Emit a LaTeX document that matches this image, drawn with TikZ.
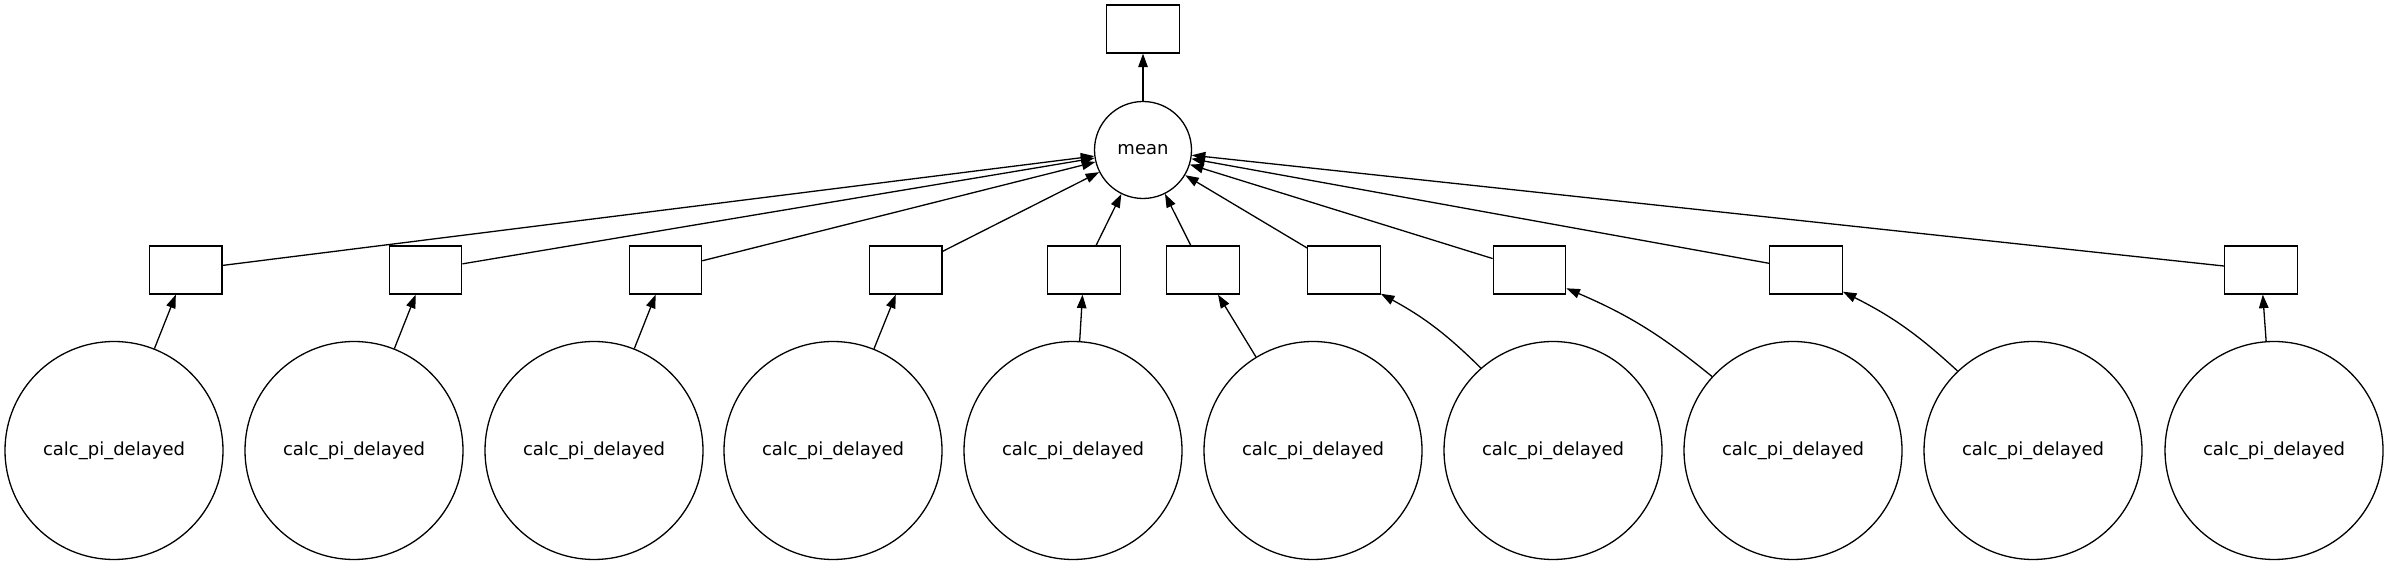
\documentclass[tikz,border=0pt]{standalone}
\usepackage{fontspec}
\setmainfont{DejaVu Sans}
\usetikzlibrary{arrows.meta}
\begin{document}
\begin{tikzpicture}[x=1bp,y=1bp,
  boxnode/.style={draw, line width=1.3bp, minimum width=72.5bp, minimum height=48bp, inner sep=0pt},
  circnode/.style={draw, circle, line width=1.3bp, inner sep=0pt, font=\fontsize{18bp}{22bp}\selectfont},
  calcnode/.style={circnode, minimum size=218bp},
  edge/.style={line width=1.3bp, -{Triangle[length=13.5bp,width=9.5bp]}}]
\fill[white] (0,0) rectangle (2387,564);
\useasboundingbox (0,0) rectangle (2387,564);
\node[boxnode] (top) at (1143,535) {};
\node[circnode, minimum size=97bp] (mean) at (1143,414) {mean};
\foreach \x [count=\i] in {185.6,425.5,665.4,905.7,1084,1203,1344,1529.5,1806,2261}
  \node[boxnode] (b\i) at (\x,294) {};
\foreach \x [count=\i] in {114,354,594,833,1073,1313,1553,1793,2033,2274}
  \node[calcnode] (c\i) at (\x,113.5) {calc\_pi\_delayed};
\draw[edge] (mean) -- (top);
\foreach \i in {1,...,10}
  \draw[edge] (b\i) -- (mean);
\foreach \i in {1,...,6,10}
  \draw[edge] (c\i) -- (b\i);
\foreach \i in {7,8,9}
  \draw[edge] (c\i) to[bend right=8] (b\i);
\end{tikzpicture}
\end{document}
